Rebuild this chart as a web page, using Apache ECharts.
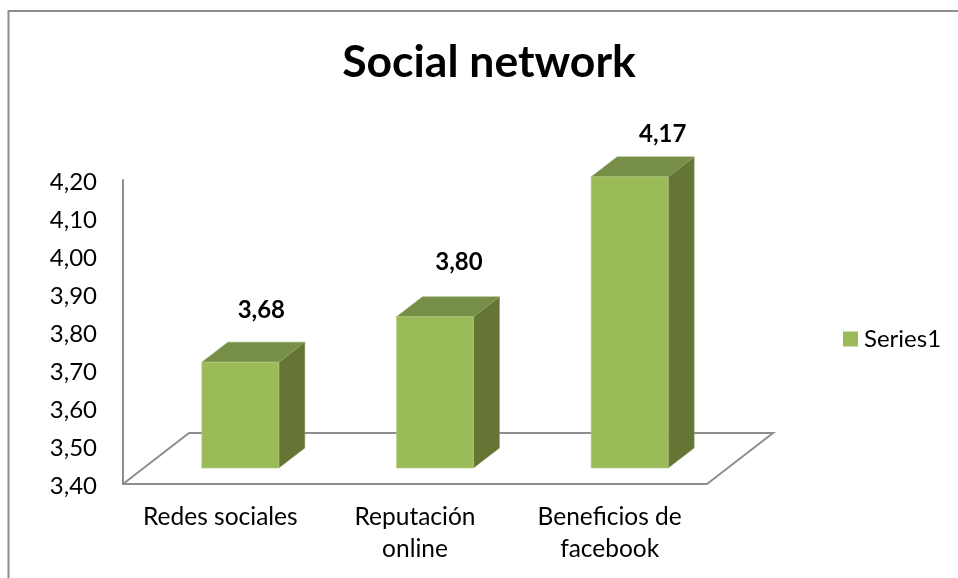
<!DOCTYPE html>
<html>
<head>
<meta charset="utf-8">
<script src="https://cdn.jsdelivr.net/npm/echarts@6/dist/echarts.min.js"></script>
<style>
  html, body { margin: 0; padding: 0; background: #fff; }
  #chart { width: 958px; height: 578px; }
</style>
</head>
<body>
<div id="chart"></div>
<script>
// 数据
const categories = ['Redes sociales', 'Reputación\nonline', 'Beneficios de\nfacebook'];
const values = [3.68, 3.80, 4.17];
const seriesName = 'Series1';

// 3D 外观
const fontName = 'Lato';
const axisColor = '#8e8e8e';
const depthX = 26, depthY = 20;       // 柱子厚度
const floorX = 66, floorY = 51;       // 底面进深
const frontX = 20, frontY = -16;      // 柱子正面相对坐标轴的偏移
const barWidth = 77;
const labelShift = [[21, -52], [24, -54], [33, -43]];

const fmt = v => v.toFixed(2).replace('.', ',');

let myChart = echarts.init(document.querySelector('#chart'));

function renderFloor(params, api) {
  let c = params.coordSys;
  let b = c.y + c.height, l = c.x, r = c.x + c.width;
  return {
    type: 'polyline',
    silent: true,
    shape: { points: [[l, b], [l + floorX, b - floorY], [r + floorX, b - floorY], [r, b]] },
    style: { fill: 'none', stroke: axisColor, lineWidth: 2 }
  };
}

function renderBar(params, api) {
  let i = api.value(0);
  let top = api.coord([i, api.value(1)]);
  let base = api.coord([i, 3.4]);
  let x0 = top[0] + frontX - barWidth / 2;
  let x1 = x0 + barWidth;
  let y1 = base[1] + frontY;
  let y0 = base[1] - (base[1] - top[1]) * 0.995 + frontY;
  return {
    type: 'group',
    children: [
      {
        type: 'polygon',
        shape: { points: [[x1, y0], [x1 + depthX, y0 - depthY], [x1 + depthX, y1 - depthY], [x1, y1]] },
        style: { fill: '#647534', stroke: '#8a9a62', lineWidth: 0.5 }
      },
      {
        type: 'polygon',
        shape: { points: [[x0, y0], [x0 + depthX, y0 - depthY], [x1 + depthX, y0 - depthY], [x1, y0]] },
        style: { fill: '#768e46', stroke: '#8fa662', lineWidth: 0.5 }
      },
      {
        type: 'rect',
        shape: { x: x0, y: y0, width: barWidth, height: y1 - y0 },
        style: { fill: '#9bbb59', stroke: '#b4cd82', lineWidth: 0.6 }
      },
      {
        type: 'text',
        style: {
          x: x0 + barWidth / 2 + labelShift[i][0],
          y: y0 + labelShift[i][1],
          text: fmt(api.value(1)),
          align: 'center',
          verticalAlign: 'middle',
          fill: '#000',
          font: 'bold 24px ' + fontName
        }
      }
    ]
  };
}

let option = {
  animation: false,
  backgroundColor: '#fff',
  textStyle: { fontFamily: fontName },
  title: {
    text: 'Social network',
    left: 484,
    top: 35,
    textAlign: 'center',
    textStyle: { fontFamily: fontName, fontSize: 44.5, fontWeight: 'bold', color: '#000' }
  },
  legend: {
    data: [seriesName],
    left: 838,
    top: 322,
    itemWidth: 15,
    itemHeight: 15,
    icon: 'rect',
    textStyle: { fontFamily: fontName, fontSize: 24, color: '#000', padding: [0, 0, 0, 1] }
  },
  grid: { left: 123, top: 180, width: 584, height: 304 },
  xAxis: {
    type: 'category',
    data: categories,
    axisLine: { lineStyle: { color: axisColor, width: 2 } },
    axisTick: { show: false },
    axisLabel: { color: '#000', fontSize: 24.5, lineHeight: 32, margin: 17, interval: 0 }
  },
  yAxis: {
    type: 'value',
    min: 3.4,
    max: 4.2,
    interval: 0.1,
    splitLine: { show: false },
    axisLine: { show: true, lineStyle: { color: axisColor, width: 2 } },
    axisTick: { show: false },
    // 标签比刻度略低 2px
    axisLabel: { color: '#000', fontSize: 24, margin: 26, verticalAlign: 'top', lineHeight: 4, formatter: fmt }
  },
  graphic: [
    {
      type: 'polyline',
      silent: true,
      shape: { points: [[8.5, 578], [8.5, 11], [958, 11]] },
      style: { fill: 'none', stroke: axisColor, lineWidth: 2 }
    }
  ],
  series: [
    {
      type: 'custom',
      name: 'floor',
      silent: true,
      z: 1,
      renderItem: renderFloor,
      data: [0]
    },
    {
      type: 'custom',
      name: seriesName,
      z: 2,
      itemStyle: { color: '#9bbb59' },
      encode: { x: 0, y: 1 },
      renderItem: renderBar,
      data: values.map((v, i) => [i, v])
    }
  ]
};
myChart.setOption(option);
</script>
</body>
</html>
